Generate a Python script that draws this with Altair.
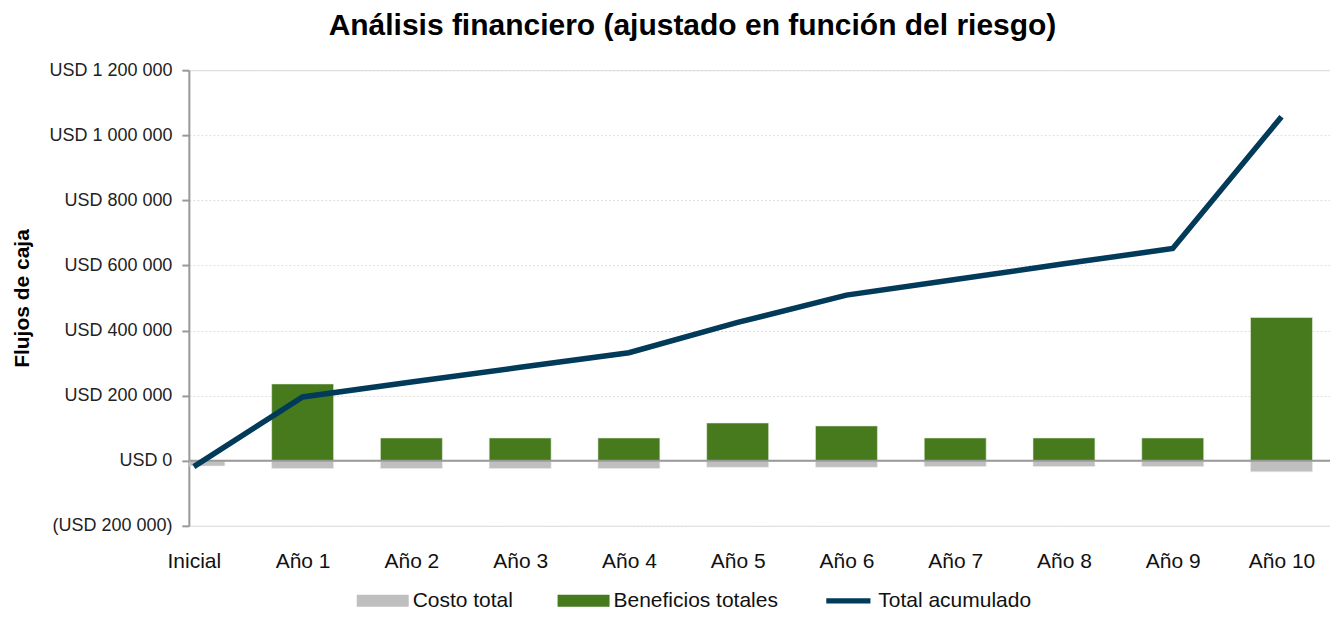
import altair as alt
import pandas as pd

categorias = ["Inicial", "Año 1", "Año 2", "Año 3", "Año 4", "Año 5",
              "Año 6", "Año 7", "Año 8", "Año 9", "Año 10"]
costo_total = [-16000, -24000, -24000, -24000, -24000, -20000,
               -20000, -18000, -18000, -18000, -34000]
beneficios_totales = [0, 236000, 70000, 70000, 70000, 116000,
                      107000, 70000, 70000, 70000, 440000]
total_acumulado = [-18000, 196000, 242000, 287000, 332000, 425000,
                   509000, 557000, 605000, 652000, 1057000]
y_ticks = [-200000, 0, 200000, 400000, 600000, 800000, 1000000, 1200000]

series = ["Costo total", "Beneficios totales", "Total acumulado"]
colores = ["#bfbfbf", "#467a1c", "#023a5a"]

rows = []
for i, c in enumerate(categorias):
    rows.append({"pos": i, "cat": c, "serie": "Costo total", "valor": costo_total[i]})
    rows.append({"pos": i, "cat": c, "serie": "Beneficios totales", "valor": beneficios_totales[i]})
bars_df = pd.DataFrame(rows)
line_df = pd.DataFrame({"pos": list(range(len(categorias))), "cat": categorias,
                        "serie": "Total acumulado", "valor": total_acumulado})

cat_array = "[" + ",".join("'" + c + "'" for c in categorias) + "]"

x_scale = alt.Scale(domain=[0, 10.4], nice=False, zero=False)
y_scale = alt.Scale(domain=[-200000, 1200000], nice=False)
color_scale = alt.Scale(domain=series, range=colores)

x_enc = alt.X("pos:Q", scale=x_scale, title=None,
              axis=alt.Axis(values=list(range(len(categorias))),
                            labelExpr=cat_array + "[datum.value]",
                            domain=False, ticks=False, grid=False,
                            labelFontSize=21, labelColor="#111111",
                            labelPadding=25, labelFont="Liberation Sans",
                            labelFlush=False))

y_axis = alt.Axis(values=y_ticks, title="Flujos de caja",
                  titleFontSize=21, titleFont="Liberation Sans", titleFontWeight="bold",
                  titleColor="#000000", titlePadding=16,
                  labelExpr="(datum.value < 0 ? '(USD ' : 'USD ') + replace(format(abs(datum.value), ','), regexp(',', 'g'), ' ') + (datum.value < 0 ? ')' : '')",
                  labelFontSize=18, labelFont="Liberation Sans", labelColor="#222222",
                  labelPadding=10, tickSize=7, tickColor="#999999", tickWidth=2,
                  domainColor="#999999", domainWidth=2,
                  grid=True, gridColor="#dddddd", gridDash=[2, 2], gridWidth=1)

legend = alt.Legend(title=None, orient="none", direction="horizontal",
                    legendX=168, legendY=505,
                    symbolType={"expr": "datum.label == 'Total acumulado' ? 'M-0.85,-0.1H0.85V0.1H-0.85Z' : 'M-1,-0.23H1V0.23H-1Z'"},
                    symbolSize=2704, symbolStrokeWidth=0, symbolOpacity=1,
                    labelFontSize=21, labelFont="Liberation Sans", labelColor="#111111",
                    labelOffset=4, columnPadding=44, labelLimit=300)

bars = alt.Chart(bars_df).mark_bar(size=62, clip=True, stroke="#e8efe0", strokeWidth=0.6).encode(
    x=x_enc,
    y=alt.Y("valor:Q", scale=y_scale, axis=y_axis, stack=None),
    color=alt.Color("serie:N", scale=color_scale, legend=legend),
)

zero = alt.Chart(pd.DataFrame({"v": [0]})).mark_rule(color="#999999", strokeWidth=2).encode(
    y=alt.Y("v:Q", scale=y_scale)
)

line = alt.Chart(line_df).mark_line(strokeWidth=5.5, color=colores[2], strokeJoin="miter").encode(
    x=alt.X("pos:Q", scale=x_scale),
    y=alt.Y("valor:Q", scale=y_scale),
)

chart = alt.layer(bars, zero, line).properties(
    width=1142, height=456,
    autosize=alt.AutoSizeParams(type="none"),
    padding={"left": 181, "top": 62, "right": 0, "bottom": 84},
    title=alt.TitleParams("Análisis financiero (ajustado en función del riesgo)",
                          fontSize=30, font="Liberation Sans", fontWeight="bold",
                          color="#000000", anchor="middle", dx=-67, dy=34, offset=30,
                          baseline="alphabetic"),
).configure_view(stroke=None).configure(background="#ffffff")

chart.save("out.html", embed_options={"renderer": "svg", "actions": False})
